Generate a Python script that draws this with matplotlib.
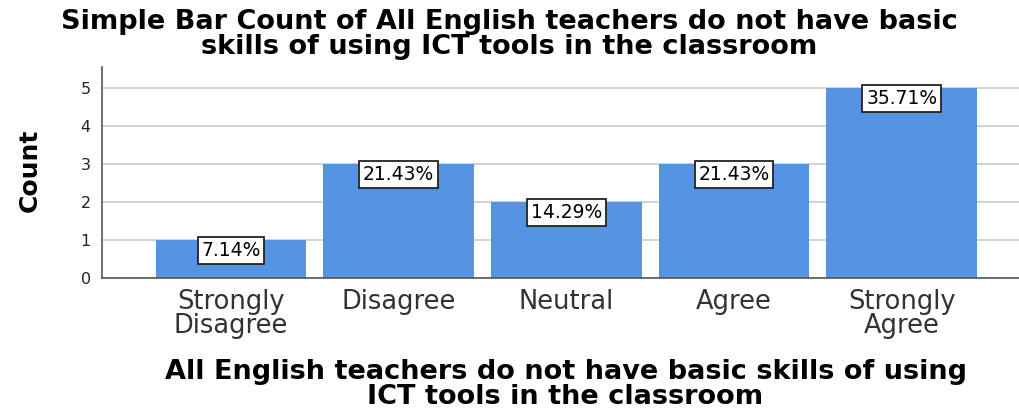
import matplotlib
matplotlib.use("Agg")
import matplotlib.pyplot as plt

# Data
categories = ["Strongly\nDisagree", "Disagree", "Neutral", "Agree", "Strongly\nAgree"]
counts = [1, 3, 2, 3, 5]
percents = ["7.14%", "21.43%", "14.29%", "21.43%", "35.71%"]
yticks = [0, 1, 2, 3, 4, 5]

title = ("Simple Bar Count of All English teachers do not have basic\n"
         "skills of using ICT tools in the classroom")
xlabel = ("All English teachers do not have basic skills of using\n"
          "ICT tools in the classroom")

plt.rcParams['font.family'] = ['DejaVu Sans']

fig = plt.figure(figsize=(10.19, 4.12), dpi=100)
ax = fig.add_axes([0.100, 0.325, 0.900, 0.512])

x = list(range(len(categories)))
ax.bar(x, counts, width=0.9, color='#5594E1', zorder=2)

# percentage labels at bar tops
for xi, c, p in zip(x, counts, percents):
    ax.annotate(p, (xi, c), xytext=(0, -0.5), textcoords='offset points',
                ha='center', va='top', fontsize=13.5, zorder=3,
                bbox=dict(boxstyle='square,pad=0.2', fc='white', ec='#222222', lw=1.3))

ax.set_xlim(-0.77, 4.7)
ax.set_ylim(0, 5.55)
ax.set_yticks(yticks)
ax.set_xticks(x)
ax.set_xticklabels(categories, fontsize=18.5, color='#333333', linespacing=0.9)
ax.tick_params(axis='x', length=0, pad=8)
ax.tick_params(axis='y', length=0, pad=8, labelsize=11.5, labelcolor='#222222')

ax.yaxis.grid(True, color='#cfcfcf', lw=1.3, zorder=0)
ax.set_axisbelow(True)
for s in ['top', 'right']:
    ax.spines[s].set_visible(False)
for s in ['left', 'bottom']:
    ax.spines[s].set_color('#555555')
    ax.spines[s].set_linewidth(1.2)

ax.set_ylabel("Count", fontsize=18, fontweight='bold')
ax.yaxis.set_label_coords(-0.066, 0.51)

fig.text(0.5, 0.978, title, ha='center', va='top', fontsize=19.5,
         fontweight='bold', linespacing=0.95)
fig.text(0.555, 0.005, xlabel, ha='center', va='bottom', fontsize=19.5,
         fontweight='bold', linespacing=0.95)

fig.savefig("out.png", dpi=100)
